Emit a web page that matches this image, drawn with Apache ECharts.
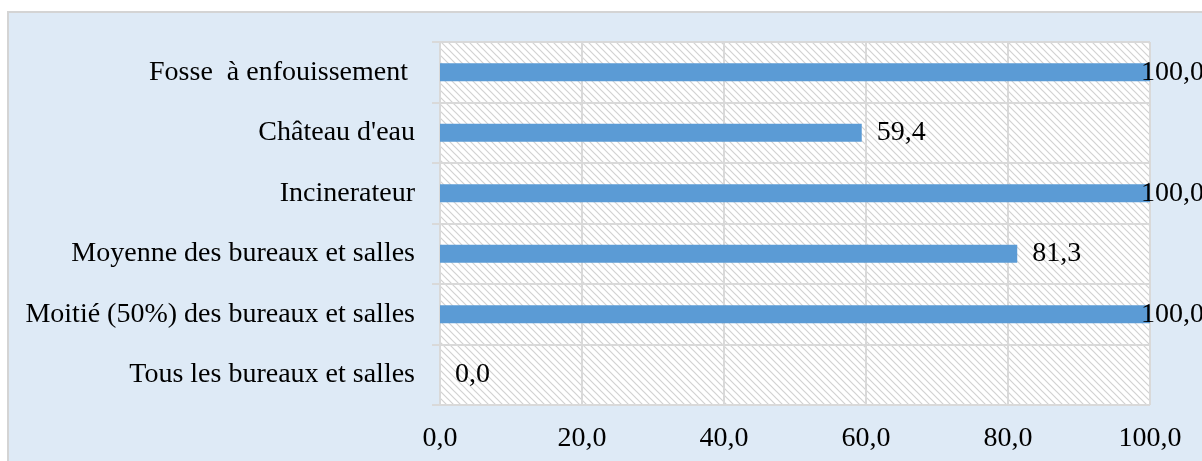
<!DOCTYPE html>
<html>
<head>
<meta charset="utf-8">
<script src="https://cdn.jsdelivr.net/npm/echarts@6/dist/echarts.min.js"></script>
<style>
html,body{margin:0;padding:0;background:#fff;}
#c{width:1202px;height:461px;}
</style>
</head>
<body>
<div id="c"></div>
<script>
var categories = [
  "Fosse  à enfouissement ",
  "Château d'eau",
  "Incinerateur",
  "Moyenne des bureaux et salles",
  "Moitié (50%) des bureaux et salles",
  "Tous les bureaux et salles"
];
var values = [100.0, 59.4, 100.0, 81.3, 100.0, 0.0];
var xTicks = [0, 20, 40, 60, 80, 100];

function hatch() {
  var s = 7;
  var cv = document.createElement('canvas');
  cv.width = s; cv.height = s;
  var g = cv.getContext('2d');
  g.fillStyle = '#ffffff';
  g.fillRect(0, 0, s, s);
  g.strokeStyle = '#d2d2d2';
  g.lineWidth = 1.2;
  g.beginPath();
  g.moveTo(-1, -1); g.lineTo(s + 1, s + 1);
  g.moveTo(-1 - s, -1); g.lineTo(1, s + 1);
  g.moveTo(s - 1, -1); g.lineTo(2 * s + 1, s + 1);
  g.stroke();
  return cv;
}

var fmt = function (v) { return Number(v).toFixed(1).replace('.', ','); };
var font = '"Liberation Serif", "Times New Roman", serif';

var chart = echarts.init(document.getElementById('c'), null, {renderer: 'canvas'});
chart.setOption({
  animation: false,
  backgroundColor: '#ffffff',
  graphic: [{
    type: 'rect', z: -10, silent: true,
    shape: {x: 8, y: 12, width: 1200, height: 460},
    style: {fill: '#DEEAF6', stroke: '#d4d4d4', lineWidth: 2}
  }],
  grid: {
    left: 440, right: 52, top: 42, bottom: 56,
    show: true,
    backgroundColor: {image: hatch(), repeat: 'repeat'},
    borderWidth: 0
  },
  xAxis: {
    type: 'value', min: 0, max: 100, interval: 20,
    axisLine: {show: false},
    axisTick: {show: false},
    splitLine: {show: true, lineStyle: {color: '#d9d9d9', width: 2}},
    axisLabel: {
      margin: 20, color: '#000', fontFamily: font, fontSize: 28,
      formatter: function (v) { return xTicks.indexOf(v) >= 0 ? fmt(v) : ''; }
    }
  },
  yAxis: {
    type: 'category', data: categories, inverse: true,
    axisLine: {show: true, lineStyle: {color: '#d9d9d9', width: 2}},
    axisTick: {show: true, length: 8, lineStyle: {color: '#d9d9d9', width: 2}},
    splitLine: {show: true, lineStyle: {color: '#d9d9d9', width: 2}},
    axisLabel: {margin: 25, color: '#000', fontFamily: font, fontSize: 28}
  },
  series: [{
    type: 'bar',
    barWidth: 18,
    itemStyle: {color: '#5B9BD5'},
    data: values.map(function (v) {
      var item = {value: v};
      if (v >= 100) item.label = {offset: [-24, 0]};
      return item;
    }),
    label: {
      show: true, position: 'right', distance: 15,
      color: '#000', fontFamily: font, fontSize: 28,
      formatter: function (p) { return fmt(p.value); }
    }
  }]
});
</script>
</body>
</html>
